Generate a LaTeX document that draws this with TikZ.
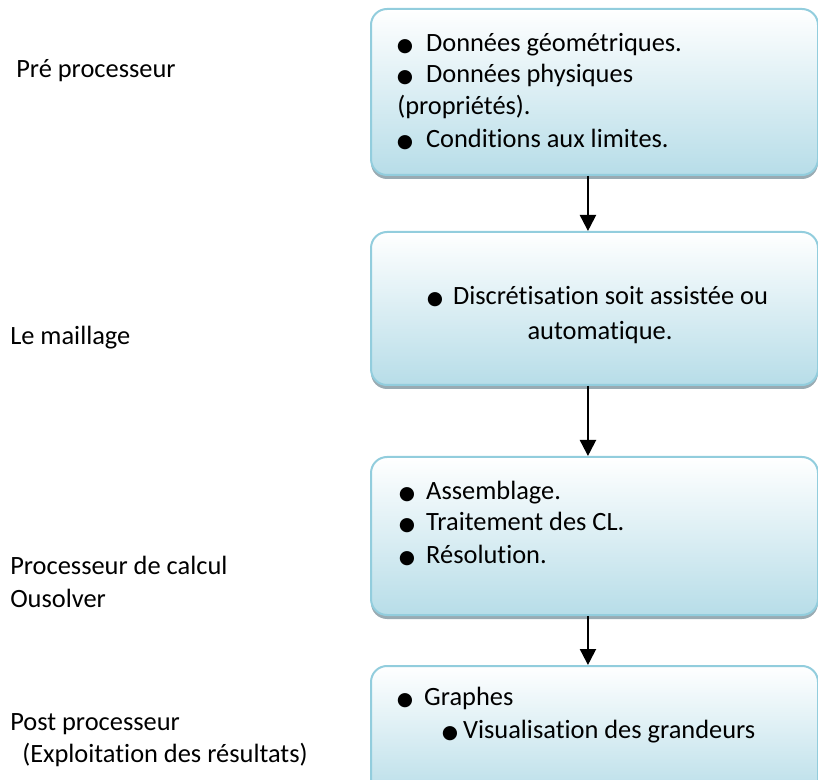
\documentclass[tikz,border=0pt]{standalone}
\usepackage{fontspec}
\setmainfont[Ligatures={NoCommon}]{Carlito}
\newfontfamily\symbfont{DejaVu Sans}
\usetikzlibrary{shadows,arrows.meta}
\definecolor{boxblue}{RGB}{183,221,232}
\definecolor{edgeblue}{RGB}{146,205,221}
\definecolor{shadowgray}{RGB}{128,150,160}
\newcommand{\puce}{{\symbfont\fontsize{14}{14}\selectfont ●}}

\begin{document}
\begin{tikzpicture}[x=0.75pt,y=-0.75pt]

% definitions
\tikzstyle{stage} = [rectangle, rounded corners=12pt, minimum width=335.25pt, draw=edgeblue, line width=1.5pt, top color=white, bottom color=boxblue, drop shadow={shadow xshift=0pt, shadow yshift=-3pt, fill=shadowgray, opacity=0.8}]

\tikzstyle{txt} = [anchor=base west, inner sep=0pt, font=\fontsize{19.8}{24}\selectfont]

\tikzstyle{arrow} = [-{Triangle[length=12pt,width=12pt]}, line width=1.6pt]

\useasboundingbox (0,0) rectangle (818,780);

% the boxes
\node (l0) [stage, minimum height=124.5pt] at (594.5,92) {};

\node (l1) [stage, minimum height=114.75pt] at (594.5,308.5) {};

\node (l2) [stage, minimum height=118.5pt] at (594.5,536) {};

\node (l3) [stage, minimum height=100.5pt] at (594.5,733) {};

% texts in the boxes
\node (a1) [txt] at (396.5,52) {\makebox[22pt][l]{\puce}Données géométriques.};
\node (a2) [txt] at (396.5,83) {\makebox[22pt][l]{\puce}Données physiques};
\node (a3) [txt] at (397,115) {(propriétés).};
\node (a4) [txt] at (396.5,148) {\makebox[22pt][l]{\puce}Conditions aux limites.};

\node (b1) [txt] at (426.5,305) {\makebox[19.7pt][l]{\puce}Discrétisation soit assistée ou};
\node (b2) [txt, anchor=base] at (600,340) {automatique.};

\node (c1) [txt] at (398.5,500) {\makebox[20.6pt][l]{\puce}Assemblage.};
\node (c2) [txt] at (398.5,531) {\makebox[20.6pt][l]{\puce}Traitement des CL.};
\node (c3) [txt] at (398.5,563) {\makebox[20.6pt][l]{\puce}Résolution.};

\node (d1) [txt] at (396.5,705) {\makebox[20.6pt][l]{\puce}Graphes};
\node (d2) [txt] at (441.5,738) {\makebox[16pt][l]{\puce}Visualisation des grandeurs};

% the labels
\node (t0) [txt] at (16,78) {Pré processeur};
\node (t1) [txt] at (10,345) {Le maillage};
\node (t2) [txt] at (10,575) {Processeur de calcul};
\node (t3) [txt] at (10,607) {Ousolver};
\node (t4) [txt] at (10,730) {Post processeur};
\node (t5) [txt] at (22,762) {(Exploitation des résultats)};

\draw [arrow] ([xshift=-4.9pt]l0.south) -- ([xshift=-4.9pt]l1.north);
\draw [arrow] ([xshift=-4.9pt]l1.south) -- ([xshift=-4.9pt]l2.north);
\draw [arrow] ([xshift=-4.9pt]l2.south) -- ([xshift=-4.9pt]l3.north);

\end{tikzpicture}
\end{document}
